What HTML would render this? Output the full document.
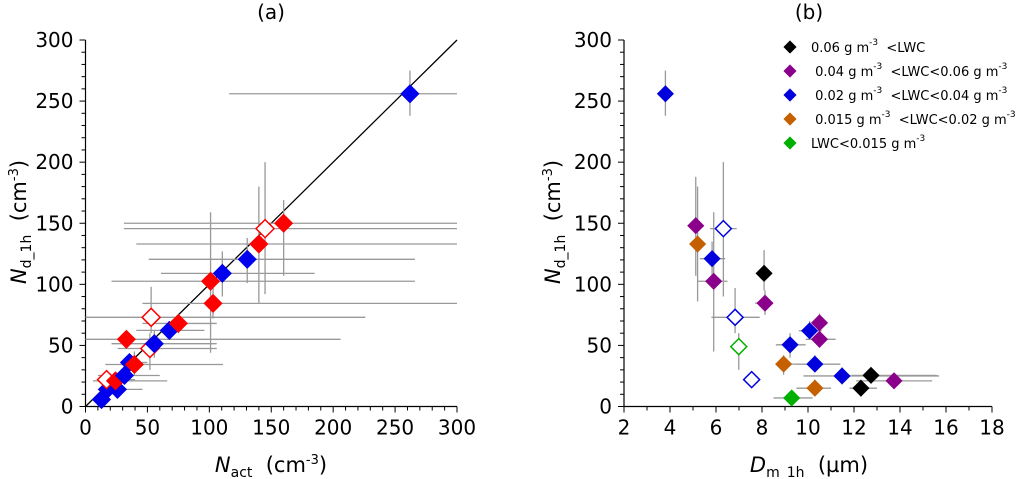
<!DOCTYPE html>
<html><head><meta charset="utf-8">
<style>
html,body{margin:0;padding:0;background:#fff;}
svg{display:block;font-family:"DejaVu Sans","Liberation Sans",sans-serif;}
</style></head>
<body>
<svg id="chart" width="1027" height="479" viewBox="0 0 1027 479"></svg>
<script>
// ===== Panel (a) data =====
const aX   = [262,145,160,140,130.6,110.5,101,103,53,75,67.7,33,55.6,52,39.5,35.5,31.5,24.2,17,25.8,17.7,12.9];
const aY   = [256,145.6,150,133,120.5,109,102.5,84.4,73,68,62.3,55,51.4,47.5,34.4,36,25.4,21,22,14,14,5.7];
const aXlo = [116,31,31,41,51,61,21,46,0,46,41,0,21,26,16,30,10,6,10,12,10,8];
const aXhi = [300,300,300,300,266,185,266,300,226,106,96,206,106,106,111,50,60,66,40,46,25,18];
const aYlo = [238,92,107,85,101,90,44,72,60,60,55,48,40,30,25,30,20,15,18,10,10,2];
const aYhi = [275,200,169,180,138,127,159,98,98,76,70,62,62,60,45,42,31,27,26,18,18,9];
const aCol = ['b','r','r','r','b','b','r','r','r','r','b','r','b','r','r','b','b','r','r','b','b','b'];
const aOpen= [0,1,0,0,0,0,0,0,1,0,0,0,0,1,0,0,0,0,1,0,0,0];
const aTicks = [0,50,100,150,200,250,300];

// ===== Panel (b) data =====
const bX   = [3.8,5.12,5.2,5.83,5.9,6.32,6.83,6.99,7.55,8.09,8.13,9.22,8.94,9.29,10.07,10.5,10.5,10.3,10.3,11.48,12.74,12.3,13.74];
const bY   = [256,148,133,121,102.5,145.6,73,49,22,109,84.6,50.5,34.7,7,62,68.5,55,34.7,15,25,25.5,15,21];
const bXlo = [3.6,4.9,5.0,5.3,5.2,5.74,5.8,6.8,7.3,7.9,7.7,8.6,8.96,8.5,9.6,10.2,9.9,9.5,9.5,9.8,11.9,11.8,12.1];
const bXhi = [4.0,5.4,5.4,6.4,6.5,6.9,7.9,7.2,7.8,8.3,8.4,9.9,11.4,10.2,10.6,10.8,11.2,11.4,11.0,15.7,15.6,13.0,15.4];
const bYlo = [238,107,86,100,45,90,60,30,16,95,75,40,26,3,55,60,48,28,10,18,19,8,15];
const bYhi = [275,188,180,135,159,200,97,60,28,128,95,60,42,12,70,76,62,42,22,32,32,22,27];
const bGrp = [2,1,3,2,1,2,2,4,2,0,1,2,3,4,2,1,1,2,3,2,0,0,1];
const bOpen= [0,0,0,0,0,1,1,1,1,0,0,0,0,0,0,0,0,0,0,0,0,0,0];
const bXTicks = [2,4,6,8,10,12,14,16,18];
const bYTicks = [0,50,100,150,200,250,300];
const legendLabels = ['0.06 g m|-3|  <LWC',' 0.04 g m|-3|  <LWC<0.06 g m|-3|',' 0.02 g m|-3|  <LWC<0.04 g m|-3|',' 0.015 g m|-3|  <LWC<0.02 g m|-3|','LWC<0.015 g m|-3|'];
const grpColors = ['#000000','#8b008b','#0000dd','#c46000','#00b000'];

const svg = document.getElementById('chart');
const NS = 'http://www.w3.org/2000/svg';
function mk(tag, attrs, parent){ const e=document.createElementNS(NS,tag); for(const k in attrs) e.setAttribute(k,attrs[k]); (parent||svg).appendChild(e); return e; }

const ax = v => 85.5 + v/300*371.5;
const ay = v => 406.5 - v/300*366.5;
const bx = v => 624 + (v-2)/16*368;
const by = v => 406.5 - v/300*366.5;

function drawAxes(gName, xf, yf, x0, x1, y1, xticks, xminor, yticks, yminor, title, tx){
  const g = mk('g',{});
  
  
  mk('line',{x1:xf(x0),y1:yf(0),x2:xf(x1),y2:yf(0),stroke:'#000','stroke-width':1.2},g);
  mk('line',{x1:xf(x0),y1:yf(0),x2:xf(x0),y2:yf(y1),stroke:'#000','stroke-width':1.2},g);
  for(let v=x0; v<=x1+1e-9; v+=xminor){ const major = xticks.some(t=>Math.abs(t-v)<1e-6);
    mk('line',{x1:xf(v),y1:yf(0),x2:xf(v),y2:yf(0)+(major?6:4),stroke:'#000','stroke-width':1},g); }
  for(let v=0; v<=y1+1e-9; v+=yminor){ const major = yticks.some(t=>Math.abs(t-v)<1e-6);
    mk('line',{x1:xf(x0),y1:yf(v),x2:xf(x0)-(major?6:4),y2:yf(v),stroke:'#000','stroke-width':1},g); }
  xticks.forEach(t=>{ const e=mk('text',{x:xf(t),y:yf(0)+28,'font-size':20,'text-anchor':'middle'},g); e.textContent=t;
      });
  yticks.forEach(t=>{ const e=mk('text',{x:xf(x0)-12,y:yf(t)+7,'font-size':20,'text-anchor':'end'},g); e.textContent=t;
      });
  const tt = mk('text',{x:tx,y:19,'font-size':20,'text-anchor':'middle'},g); tt.textContent=title;
   
}

function diamond(parent, cx, cy, r, color, open){
  return mk('polygon',{points:`${cx},${cy-r} ${cx+r},${cy} ${cx},${cy+r} ${cx-r},${cy}`,
    fill: open?'#fff':color, stroke: color, 'stroke-width': open?1.5:0.8}, parent);
}

// ---- Panel (a) ----
drawAxes('panel-a-axes', ax, ay, 0, 300, 300, aTicks, 10, aTicks, 10, '(a)', 271);
const lineA = mk('line',{x1:ax(0),y1:ay(0),x2:ax(300),y2:ay(300),stroke:'#000','stroke-width':1.3});


const errA = mk('g',{stroke:'#999','stroke-width':1.3});


for(let i=0;i<aX.length;i++){
  mk('line',{x1:ax(aXlo[i]),y1:ay(aY[i]),x2:ax(aXhi[i]),y2:ay(aY[i])},errA);
  mk('line',{x1:ax(aX[i]),y1:ay(aYlo[i]),x2:ax(aX[i]),y2:ay(aYhi[i])},errA);
}
const ptsA = mk('g',{});


for(let i=aX.length-1;i>=0;i--){
  const p = diamond(ptsA, ax(aX[i]), ay(aY[i]), 9, aCol[i]==='b'?'#0000ee':'#ff0000', aOpen[i]);
  
  
}
const xlA = mk('text',{x:271,y:472,'font-size':21,'text-anchor':'middle'});
xlA.innerHTML = '<tspan font-style="italic">N</tspan><tspan font-size="14" dy="5">act</tspan><tspan dy="-5" xml:space="preserve">  (cm</tspan><tspan font-size="13" dy="-8">-3</tspan><tspan dy="8">)</tspan>';


const ylA = mk('text',{x:0,y:0,'font-size':21,'text-anchor':'middle',transform:'translate(26,222) rotate(-90)'});
ylA.innerHTML = '<tspan font-style="italic">N</tspan><tspan font-size="14" dy="5">d_1h</tspan><tspan dy="-5" xml:space="preserve">  (cm</tspan><tspan font-size="13" dy="-8">-3</tspan><tspan dy="8">)</tspan>';



// ---- Panel (b) ----
drawAxes('panel-b-axes', bx, by, 2, 18, 300, bXTicks, 1, bYTicks, 10, '(b)', 809);
const errB = mk('g',{stroke:'#999','stroke-width':1.3});


for(let i=0;i<bX.length;i++){
  mk('line',{x1:bx(bXlo[i]),y1:by(bY[i]),x2:bx(bXhi[i]),y2:by(bY[i])},errB);
  mk('line',{x1:bx(bX[i]),y1:by(bYlo[i]),x2:bx(bX[i]),y2:by(bYhi[i])},errB);
}
const ptsB = mk('g',{});


for(let i=0;i<bX.length;i++){
  const p = diamond(ptsB, bx(bX[i]), by(bY[i]), 8, grpColors[bGrp[i]], bOpen[i]);
  
  
}
const xlB = mk('text',{x:809,y:472,'font-size':21,'text-anchor':'middle'});
xlB.innerHTML = '<tspan font-style="italic">D</tspan><tspan font-size="14" dy="5">m_1h</tspan><tspan dy="-5" xml:space="preserve">  (µm)</tspan>';


const ylB = mk('text',{x:0,y:0,'font-size':21,'text-anchor':'middle',transform:'translate(560,222) rotate(-90)'});
ylB.innerHTML = '<tspan font-style="italic">N</tspan><tspan font-size="14" dy="5">d_1h</tspan><tspan dy="-5" xml:space="preserve">  (cm</tspan><tspan font-size="13" dy="-8">-3</tspan><tspan dy="8">)</tspan>';



// legend
const leg = mk('g',{});


legendLabels.forEach((lab,i)=>{
  const cy = 47 + i*24;
  const g = mk('g',{},leg);
  
  
  diamond(g, 790, cy, 6, grpColors[i], 0);
  const t = mk('text',{x:811,y:cy+5,'font-size':13},g);
  t.setAttribute('xml:space','preserve');
  t.style.whiteSpace = 'pre';
  const parts = lab.split('|');
  let pendingDy = 0;
  parts.forEach((s,k)=>{
    if(s==='') return;
    if(k%2===1){
      const sup = mk('tspan',{'font-size':9,dy:-7+pendingDy},t); sup.textContent = s;
      pendingDy = 7;
    } else {
      const ts = mk('tspan',{dy:pendingDy},t); ts.textContent = s;
      pendingDy = 0;
    }
  });
});
</script>
</body></html>
